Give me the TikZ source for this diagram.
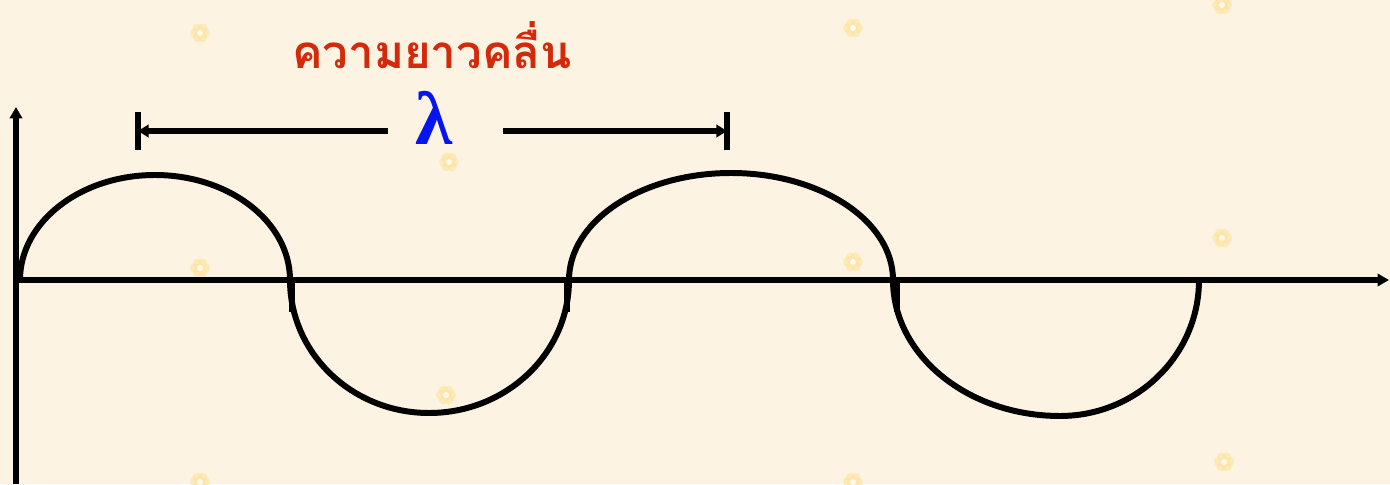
\documentclass[tikz,border=0pt]{standalone}
\usepackage{fontspec}
\usepackage{xcolor}
\usepackage{tikz}
\usetikzlibrary{arrows.meta,positioning}
\newfontfamily\thaifont[Script=Thai]{Loma}
\newfontfamily\greekfont{Liberation Serif}
\definecolor{paper}{RGB}{253,243,227}
\definecolor{bloom}{RGB}{254,228,160}
\definecolor{titlered}{RGB}{212,42,12}
\definecolor{lamblue}{RGB}{5,20,240}

\begin{document}
\begin{tikzpicture}[x=0.02cm, y=0.02cm, axis/.style={line width=3.4pt,-{Triangle[length=6.5pt,width=7pt]}}, wave/.style={line width=3.4pt}, dimline/.style={line width=3.2pt,-{Triangle[length=6pt,width=7pt]}}, dimbar/.style={line width=3.6pt}]
    \useasboundingbox (0,0) rectangle (1390,484);
    \fill[paper] (0,0) rectangle (1390,484);
    % faint flowers of the background
    \foreach \fx/\fy in {200/451,853/456,1222/479,449/322,1222/246,200/216,853/222,446/89,200/2,853/2,1224/22}{
      \foreach \a in {0,60,...,300}{
        \fill[bloom,opacity=0.6] (\fx,\fy) ++(\a:5) circle (5);
      }
      \fill[white,opacity=0.8] (\fx,\fy) circle (3);
    }
    \coordinate (orig) at (16,204);
    \coordinate (ytop) at (16,377);
    \coordinate (ybot) at (16,0);
    \coordinate (xend) at (1389,204);
    \draw[axis] (ybot) -- (ytop);
    \draw[axis] (orig) -- (xend);
    \draw[wave] (20,204) arc[start angle=180, end angle=0, x radius=135, y radius=105]
      arc[start angle=180, end angle=270, x radius=139, y radius=133]
      arc[start angle=270, end angle=360, x radius=140, y radius=133]
      arc[start angle=180, end angle=0, x radius=162, y radius=107]
      arc[start angle=180, end angle=270, x radius=167, y radius=136]
      arc[start angle=270, end angle=360, x radius=139, y radius=136];
    \foreach \sx in {292,567,897}{
      \draw[wave] (\sx,204) -- (\sx,172);
    }
    % wavelength mark
    \coordinate (dimL) at (138,353);
    \coordinate (dimR) at (727,353);
    \coordinate (gapL) at (388,353);
    \coordinate (gapR) at (503,353);
    \draw[dimbar] ([yshift=-0.39cm]dimL) -- ([yshift=0.39cm]dimL);
    \draw[dimbar] ([yshift=-0.39cm]dimR) -- ([yshift=0.39cm]dimR);
    \draw[dimline] (gapL) -- (dimL);
    \draw[dimline] (gapR) -- (dimR);
    \node[inner sep=0pt, text=lamblue, font=\greekfont\bfseries\fontsize{43}{46}\selectfont] (lam) at (434,366) {λ};
    \node[inner sep=0pt, text depth=0pt, anchor=base, text=titlered, font=\thaifont\bfseries\fontsize{26}{30}\selectfont] (title) at (432,415) {ความยาวคลื่น};
\end{tikzpicture}
\end{document}
